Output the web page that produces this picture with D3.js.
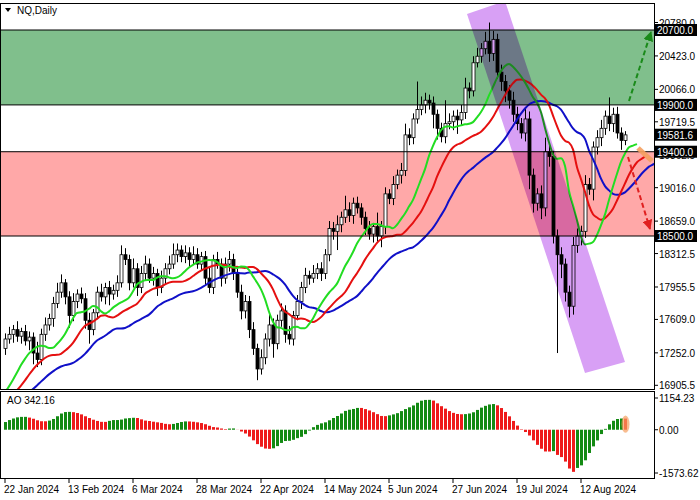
<!DOCTYPE html>
<html><head><meta charset="utf-8">
<script src="https://cdn.jsdelivr.net/npm/d3@7"></script>
<style>body{margin:0;background:#fff}svg{display:block}</style>
</head><body>
<script>
// ---- data ----
const dateLabels = ["22 Jan 2024","13 Feb 2024","6 Mar 2024","28 Mar 2024","22 Apr 2024","14 May 2024","5 Jun 2024","27 Jun 2024","19 Jul 2024","12 Aug 2024"];
const priceTicks = [20780.0,20423.0,20066.0,19719.5,19362.5,19016.0,18659.0,18312.5,17955.5,17609.0,17252.0,16905.5];
const levels = [20700,19900,19400,18500];
const lastPrice = 19581.6;
const aoTicks = [1154.23,0,-1573.62];
const preCloses = [16500,16600,16650,16700,16800,16850,16900,16950,17000,16950,17050,17100,17000,16900,16950,17050,17000,17050,16950,16800,16700,16650,16600,16550,16600,16550,16650,16750,16800,16900,17000,17100,17200,17300];
const closes = [17400,17450,17500,17430,17480,17380,17420,17250,17180,17450,
17550,17620,17780,17900,18000,17850,17650,17800,17880,17830,
17600,17500,17680,17900,17850,17950,17880,17920,18000,18300,
18250,18000,18150,17950,18100,18200,18050,18100,17950,18050,
18150,18200,18300,18350,18280,18320,18250,18300,18200,18280,
18050,17950,18250,18200,18050,18200,18250,18100,17900,17700,
17800,17500,17300,17080,17200,17400,17550,17350,17600,17700,
17450,17400,17650,17800,17950,18080,18050,18100,18150,18100,
18300,18580,18550,18620,18700,18780,18720,18850,18800,18700,
18580,18520,18600,18500,18600,18950,18900,19050,19150,19200,
19580,19550,19750,19850,19900,19950,19920,19800,19650,19560,
19700,19720,19780,19740,19820,20080,20050,20350,20420,20500,
20580,20450,20600,20250,20150,20050,19950,19800,19700,19600,
19750,19150,18850,18950,18800,19400,19350,18500,18300,18200,
17900,17750,18400,18500,18550,19050,19000,19450,19550,19650,
19780,19700,19800,19600,19520,19580];
const upWick = [60,80,50,90,40,70,60,50,120,60,80,50,70,100,90,40,60,90,50,70,
60,80,40,60,90,50,70,60,80,100,70,50,110,60,80,90,60,70,50,80,
60,90,120,70,50,80,60,90,70,50,60,120,50,80,60,70,90,60,50,80,
70,60,80,50,90,60,110,70,60,80,60,90,50,70,60,80,50,90,60,70,
60,80,70,100,60,150,80,60,70,50,60,80,40,150,60,70,50,90,60,80,
120,70,60,300,90,80,60,70,50,60,250,90,60,70,80,110,60,70,90,60,
100,200,90,60,80,70,60,90,80,60,120,80,70,60,90,150,80,60,70,80,
60,70,90,80,60,100,70,60,80,90,60,200,70,80,60,40];
const downWick = [70,50,90,60,80,50,100,120,80,60,70,60,90,50,60,80,130,60,70,50,
90,150,60,70,50,80,120,60,70,50,60,80,50,90,60,70,50,80,90,60,
70,60,50,80,60,70,90,60,50,70,80,60,70,50,90,60,80,70,60,90,
80,90,70,120,60,70,80,150,60,70,90,60,70,50,80,60,70,50,60,80,
60,70,90,200,80,60,70,90,60,80,70,60,90,60,120,80,60,70,50,90,
60,80,70,50,60,90,70,150,120,60,70,60,90,150,60,70,80,60,50,70,
60,90,80,70,100,120,90,80,70,60,90,150,100,80,120,90,110,80,1050,150,
100,120,90,80,100,70,60,120,80,90,70,80,90,60,100,50];

// ---- derived bars ----
const all = preCloses.concat(closes);
const P = preCloses.length;
const bars = all.map((c,k)=>{
  const o = k===0 ? c : all[k-1];
  const i = k-P;
  const uw = i>=0 ? upWick[i] : 60, dw = i>=0 ? downWick[i] : 60;
  return {o, c, h: Math.max(o,c)+uw, l: Math.min(o,c)-dw};
});
const med = bars.map(b=>(b.h+b.l)/2);
function smma(n){const out=[];let v=null;med.forEach((m,k)=>{if(k<n-1){out.push(null);return;}
 if(v===null){v=d3.mean(med.slice(k-n+1,k+1));}else{v=(v*(n-1)+m)/n;}out.push(v);});return out;}
function sma(n){return med.map((m,k)=>k<n-1?null:d3.mean(med.slice(k-n+1,k+1)));}
const jaw=smma(13), teeth=smma(8), lips=smma(5);
const s5=sma(5), s34=sma(34);
const ao = med.map((m,k)=> (s5[k]!=null&&s34[k]!=null)? s5[k]-s34[k] : null);

// ---- layout ----
const W=700,H=500, plotR=654;
const svg=d3.select("body").append("svg").attr("width",W).attr("height",H).style("font-family","'Liberation Sans',Arial,sans-serif");
const x=d3.scaleLinear().domain([0,155]).range([5,625]);
const y=d3.scaleLinear().domain([18500,20700]).range([236,30]);
const ya=d3.scaleLinear().domain([-1573.62,1154.23]).range([473,398]);

const main=svg.append("g");
main.append("defs").append("clipPath").attr("id","cm").append("rect").attr("x",0).attr("y",3).attr("width",plotR).attr("height",386);
const g=main.append("g").attr("clip-path","url(#cm)");
g.append("rect").attr("x",0).attr("width",plotR).attr("y",y(20700)).attr("height",y(19900)-y(20700)).attr("fill","#80bf8c");
g.append("rect").attr("x",0).attr("width",plotR).attr("y",y(19400)).attr("height",y(18500)-y(19400)).attr("fill","#ffa8a8");

const vis=closes.map((c,i)=>Object.assign({i},bars[i+P]));
g.selectAll(".wick").data(vis).join("line").attr("x1",d=>x(d.i)+0.5).attr("x2",d=>x(d.i)+0.5)
 .attr("y1",d=>y(d.h)).attr("y2",d=>y(d.l)).attr("stroke","#000").attr("stroke-width",1);
g.selectAll(".body").data(vis).join("rect").attr("x",d=>x(d.i)-1).attr("width",3)
 .attr("y",d=>y(Math.max(d.o,d.c))).attr("height",d=>Math.max(1,Math.abs(y(d.o)-y(d.c))))
 .attr("fill",d=>d.c>=d.o?"#fff":"#000").attr("stroke","#000").attr("stroke-width",0.8);

function drawLine(arr,shift,col){
  const pts=arr.map((v,k)=>({i:k-P+shift,v})).filter(p=>p.v!=null&&p.i>=-2);
  g.append("path").datum(pts).attr("fill","none").attr("stroke",col).attr("stroke-width",2)
   .attr("d",d3.line().x(p=>x(p.i)).y(p=>y(p.v)).curve(d3.curveMonotoneX));
}
drawLine(jaw,8,"#1010c8");
drawLine(teeth,5,"#e51010");
drawLine(lips,3,"#22dd22");

// level lines
levels.forEach(v=>g.append("line").attr("x1",0).attr("x2",plotR).attr("y1",y(v)).attr("y2",y(v)).attr("stroke","#000").attr("stroke-width",1));

// channel band
g.append("polygon").attr("points","467,14 505,1 625,362 585,373").attr("fill","#d8a0f5").style("mix-blend-mode","multiply");

// orange forecast segment
g.append("line").attr("x1",638).attr("y1",148).attr("x2",652).attr("y2",161).attr("stroke","#f5a060").attr("stroke-width",5).attr("opacity",0.9);
// arrows
const defs=svg.append("defs");
[["ag","#1a8a1a"],["ar","#e02020"]].forEach(([id,c])=>defs.append("marker").attr("id",id).attr("viewBox","0 0 10 10").attr("refX",9).attr("refY",5)
 .attr("markerWidth",5).attr("markerHeight",5).attr("orient","auto").append("path").attr("d","M0,0L10,5L0,10z").attr("fill",c));
g.append("line").attr("x1",629).attr("y1",101).attr("x2",651).attr("y2",32).attr("stroke","#1a8a1a").attr("stroke-width",2).attr("stroke-dasharray","5,3").attr("marker-end","url(#ag)");
g.append("line").attr("x1",628).attr("y1",157).attr("x2",650).attr("y2",229).attr("stroke","#e02020").attr("stroke-width",2).attr("stroke-dasharray","5,3").attr("marker-end","url(#ar)");

// main frame
svg.append("rect").attr("x",0.5).attr("y",3.5).attr("width",plotR).attr("height",386).attr("fill","none").attr("stroke","#000");
svg.append("text").attr("x",17).attr("y",14).attr("font-size",10).text("NQ,Daily");
svg.append("path").attr("d","M5,8L11,8L8,12z").attr("fill","#000");

// price axis
priceTicks.forEach(v=>{
  svg.append("line").attr("x1",plotR).attr("x2",plotR+4).attr("y1",y(v)).attr("y2",y(v)).attr("stroke","#000");
  svg.append("text").attr("x",659).attr("y",y(v)+4).attr("font-size",10).text(v.toFixed(1));
});
levels.concat([lastPrice]).forEach(v=>{
  svg.append("rect").attr("x",655).attr("y",y(v)-6).attr("width",42).attr("height",12).attr("fill","#000");
  svg.append("text").attr("x",657).attr("y",y(v)+4).attr("font-size",10).attr("fill","#fff").text(v.toFixed(1));
});

// AO panel
const aoVis=closes.map((c,i)=>({i,v:ao[i+P],p:ao[i+P-1]}));
svg.selectAll(".ao").data(aoVis).join("rect").attr("x",d=>x(d.i)-1).attr("width",3)
 .attr("y",d=>Math.min(ya(d.v),ya(0))).attr("height",d=>Math.abs(ya(d.v)-ya(0)))
 .attr("fill",d=>d.v>=d.p?"#138a13":"#ee1a1a");
const lastAO=aoVis[aoVis.length-1];
svg.append("ellipse").attr("cx",x(155)+0.5).attr("cy",(ya(lastAO.v)+ya(0))/2).attr("rx",4).attr("ry",Math.abs(ya(lastAO.v)-ya(0))/2+3).attr("fill","#f5a060").attr("opacity",0.7);
svg.append("rect").attr("x",0.5).attr("y",391.5).attr("width",plotR).attr("height",87).attr("fill","none").attr("stroke","#000");
svg.append("text").attr("x",7).attr("y",404).attr("font-size",10).text("AO 342.16");
aoTicks.forEach(v=>{
  svg.append("line").attr("x1",plotR).attr("x2",plotR+4).attr("y1",ya(v)).attr("y2",ya(v)).attr("stroke","#000");
  svg.append("text").attr("x",659).attr("y",ya(v)+4).attr("font-size",10).text(v.toFixed(2));
});

// date axis
dateLabels.forEach((t,k)=>{
  const xi=x(k*16);
  svg.append("line").attr("x1",xi).attr("x2",xi).attr("y1",479).attr("y2",483).attr("stroke","#000");
  svg.append("text").attr("x",xi-1).attr("y",493).attr("font-size",10).text(t);
});
</script>
</body></html>
